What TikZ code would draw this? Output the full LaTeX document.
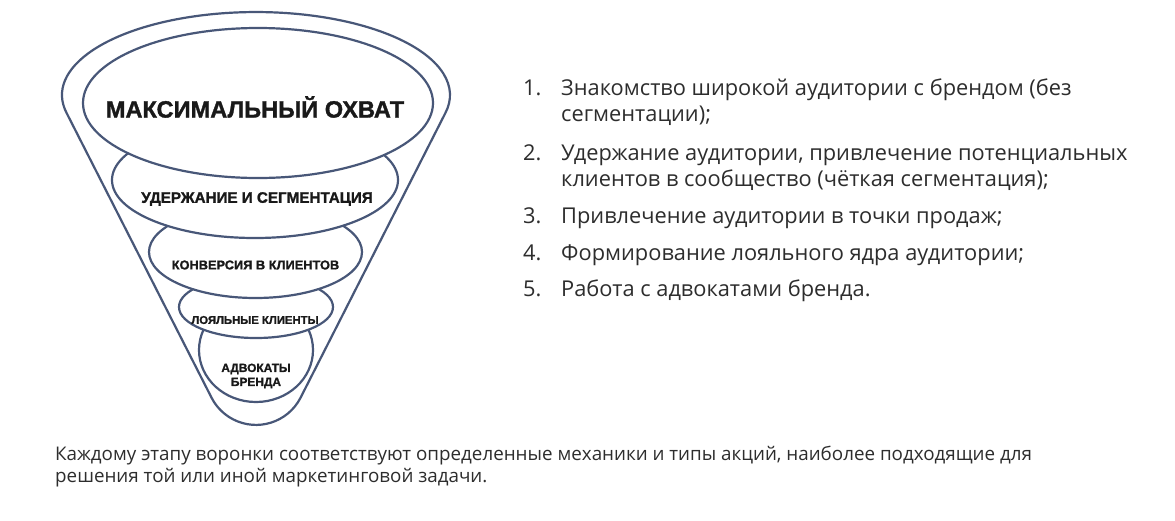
\documentclass[tikz,border=0pt]{standalone}
\usepackage{fontspec}
\setmainfont{Open Sans}
\newfontfamily\labelfont[FakeBold=1.3]{Liberation Sans Bold}
\usetikzlibrary{shapes.geometric}
\definecolor{funnelblue}{RGB}{72,87,120}
\definecolor{listtxt}{RGB}{45,45,45}
\definecolor{labeltxt}{RGB}{25,25,25}
\newcommand{\lines}[1]{\begin{tabular}[t]{@{}l@{}}#1\end{tabular}}
\begin{document}
\begin{tikzpicture}[x=1pt,y=-1pt,
  funnelline/.style={draw=funnelblue,line width=2.2pt,line join=round},
  stage/.style={ellipse,funnelline,fill=white,inner sep=0pt},
  stagetext/.style={text=labeltxt,align=center,inner sep=0pt},
  numtext/.style={anchor=base west,inner sep=0pt,text=listtxt,font=\fontsize{21.8}{26.5}\selectfont},
  itemtext/.style={anchor=base west,inner sep=0pt,text=listtxt,font=\fontsize{21.8}{26.5}\selectfont},
  note/.style={anchor=base west,inner sep=0pt,text=listtxt,font=\fontsize{18.8}{22.5}\selectfont}]
\useasboundingbox (0,0) rectangle (1175,520);
\fill[white] (0,0) rectangle (1175,520);
% outer funnel
\draw[funnelline] (66.6,113) arc[start angle=167.5,end angle=372.5,x radius=194,y radius=83]
  -- (300.4,398) arc[start angle=27.5,end angle=152.5,radius=50] -- cycle;
% stages, bottom first
\node[stage,minimum width=114pt,minimum height=104pt] (e5) at (256,350) {};
\node[stage,minimum width=154pt,minimum height=62pt] (e4) at (256,307) {};
\node[stage,minimum width=213pt,minimum height=92pt] (e3) at (255.5,252) {};
\node[stage,minimum width=286pt,minimum height=116pt] (e2) at (255,180) {};
\node[stage,minimum width=350pt,minimum height=150pt] (e1) at (258,103) {};
% stage labels
\node[stagetext,font=\labelfont\fontsize{23.6}{26}\selectfont] (t1) at (255,107) {МАКСИМАЛЬНЫЙ ОХВАТ};
\node[stagetext,font=\labelfont\fontsize{15.2}{17}\selectfont] (t2) at (257,199) {УДЕРЖАНИЕ И СЕГМЕНТАЦИЯ};
\node[stagetext,font=\labelfont\fontsize{12.8}{14}\selectfont] (t3) at (255.5,265) {КОНВЕРСИЯ В КЛИЕНТОВ};
\node[stagetext,font=\labelfont\fontsize{11.3}{13}\selectfont] (t4) at (255,320) {ЛОЯЛЬНЫЕ КЛИЕНТЫ};
\node[stagetext,font=\labelfont\fontsize{11.9}{14}\selectfont] (t5) at (256,376) {АДВОКАТЫ\\БРЕНДА};
% list
\node[numtext] (n1) at (523,95) {1.};
\node[itemtext] (i1) at (561,95) {\lines{Знакомство широкой аудитории с брендом (без\\сегментации);}};
\node[numtext] (n2) at (523,160) {2.};
\node[itemtext] (i2) at (561,160) {\lines{Удержание аудитории, привлечение потенциальных\\клиентов в сообщество (чёткая сегментация);}};
\node[numtext] (n3) at (523,223) {3.};
\node[itemtext] (i3) at (561,223) {Привлечение аудитории в точки продаж;};
\node[numtext] (n4) at (523,260) {4.};
\node[itemtext] (i4) at (561,260) {Формирование лояльного ядра аудитории;};
\node[numtext] (n5) at (523,296) {5.};
\node[itemtext] (i5) at (561,296) {Работа с адвокатами бренда.};
% note
\node[note] (nt) at (55,460) {\lines{Каждому этапу воронки соответствуют определенные механики и типы акций, наиболее подходящие для\\решения той или иной маркетинговой задачи.}};
\end{tikzpicture}
\end{document}
